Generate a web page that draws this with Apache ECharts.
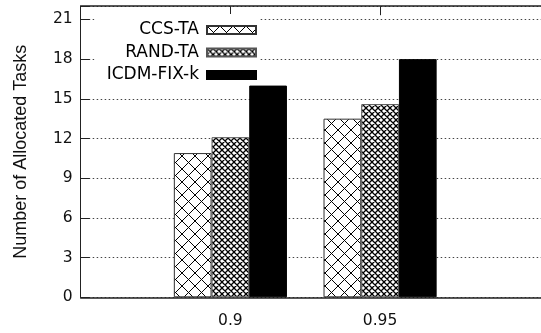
<!DOCTYPE html>
<html><head><meta charset="utf-8">
<script src="https://cdn.jsdelivr.net/npm/echarts@6/dist/echarts.min.js"></script>
<style>html,body{margin:0;padding:0;background:#fff}#c{width:541px;height:333px}</style>
</head><body><div id="c"></div>
<script>
const categories = ['0.9', '0.95'];
const seriesNames = ['CCS-TA', 'RAND-TA', 'ICDM-FIX-k'];
const ccsTA = [10.9, 13.5];
const randTA = [12.1, 14.6];
const icdmFixK = [16.0, 18.0];
const yTicks = [0, 3, 6, 9, 12, 15, 18, 21];
const yTitle = 'Number of Allocated Tasks';

function hatch(size, lw) {
  const c = document.createElement('canvas');
  c.width = size; c.height = size;
  const g = c.getContext('2d');
  g.fillStyle = '#fff'; g.fillRect(0, 0, size, size);
  g.strokeStyle = '#000'; g.lineWidth = lw;
  g.beginPath();
  for (const k of [-size, 0, size]) {
    g.moveTo(k, 0); g.lineTo(k + size, size);
    g.moveTo(k + size, 0); g.lineTo(k, size);
  }
  g.stroke();
  return c;
}

const catPos = categories.map((c, i) => i + 1);
const fills = [
  { image: hatch(13, 1), repeat: 'repeat' },
  { image: hatch(6, 1.3), repeat: 'repeat' },
  '#000'
];
const borders = ['#333', '#555', '#000'];
const values = [ccsTA, randTA, icdmFixK];

const chart = echarts.init(document.getElementById('c'), null, { renderer: 'canvas' });
chart.setOption({
  animation: false,
  backgroundColor: '#fff',
  grid: { left: 80.7, top: 6.2, width: 479, bottom: 35.7, containLabel: false, outerBoundsMode: 'none' },
  legend: {
    orient: 'vertical', align: 'right', right: 282, top: 14,
    padding: [7, 2, 1, 12], backgroundColor: '#fff',
    icon: 'rect',
    itemWidth: 49, itemHeight: 8, itemGap: 4.5,
    textStyle: { fontSize: 17, fontFamily: 'DejaVu Sans', color: '#000', lineHeight: 18, padding: [0, 3, 0, 0] },
    data: seriesNames
  },
  xAxis: [
    {
      type: 'value', min: 0, max: 3.2, position: 'bottom',
      axisLine: { show: true, lineStyle: { color: '#222', width: 1.5 } },
      splitLine: { show: false },
      axisTick: { show: true, inside: true, length: 9, customValues: catPos, lineStyle: { color: '#222' } },
      axisLabel: {
        customValues: catPos, margin: 16, fontSize: 15.5, fontFamily: 'DejaVu Sans', color: '#111',
        formatter: v => categories[Math.round(v) - 1] || ''
      }
    },
    {
      type: 'value', min: 0, max: 3.2, position: 'top',
      axisLine: { show: true, lineStyle: { color: '#222', width: 1.5 } },
      splitLine: { show: false },
      axisTick: { show: true, inside: true, length: 9, customValues: catPos, lineStyle: { color: '#222' } },
      axisLabel: { show: false }
    }
  ],
  yAxis: {
    type: 'value', min: 0, max: 22, interval: 3,
    name: yTitle, nameLocation: 'middle', nameGap: 51,
    nameTextStyle: { fontFamily: 'Liberation Sans', fontSize: 18, color: '#111' },
    axisLine: { show: true, lineStyle: { color: '#222', width: 1 } },
    axisTick: { show: true, inside: true, length: 9, lineStyle: { color: '#222' } },
    axisLabel: {
      margin: 8, fontSize: 15.5, fontFamily: 'DejaVu Sans', color: '#111',
      formatter: v => (yTicks.indexOf(v) >= 0 ? String(v) : '')
    },
    splitLine: { show: true, lineStyle: { type: [1.5, 2.5], color: '#444', width: 1 } }
  },
  series: values.map((vals, i) => ({
    name: seriesNames[i], type: 'bar', xAxisIndex: 0,
    barWidth: 37.7, barGap: '0%',
    data: vals.map((v, j) => [catPos[j], v]),
    itemStyle: { color: fills[i], borderColor: borders[i], borderWidth: 1 }
  }))
});
</script></body></html>
